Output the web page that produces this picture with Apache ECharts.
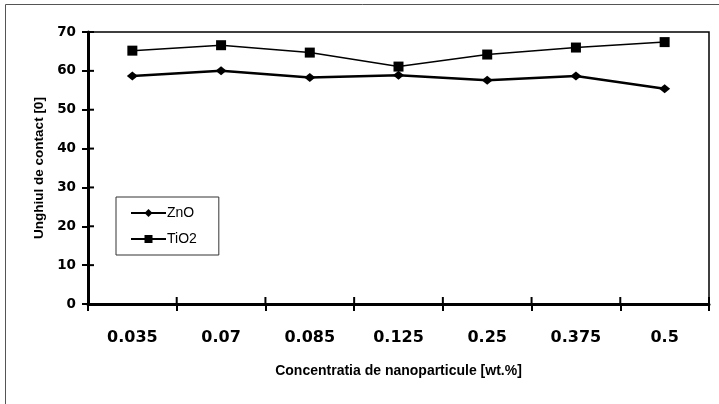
<!DOCTYPE html>
<html><head><meta charset="utf-8">
<script src="https://cdn.jsdelivr.net/npm/echarts@6/dist/echarts.min.js"></script>
<style>html,body{margin:0;padding:0;background:#fff}#c{width:719px;height:404px}</style>
</head><body><div id="c"></div>
<script>
var categories = ['0.035','0.07','0.085','0.125','0.25','0.375','0.5'];
var znoValues = [58.7, 60.0, 58.3, 58.9, 57.6, 58.7, 55.4];
var tio2Values = [65.2, 66.6, 64.7, 61.1, 64.2, 66.0, 67.4];
var yTickValues = [0, 10, 20, 30, 40, 50, 60, 70];

var chart = echarts.init(document.getElementById('c'));
var frame = {
  type: 'rect', shape: {x: 5.5, y: 4.5, width: 900, height: 600},
  style: {fill: 'none', stroke: '#555', lineWidth: 1}, silent: true
};
chart.setOption({
  animation: false,
  backgroundColor: '#fff',
  graphic: [frame],
  grid: {left: 88, right: 10, top: 32, bottom: 100, show: true, borderColor: '#000', borderWidth: 1.5, backgroundColor: 'transparent'},
  legend: {
    left: 116, top: 197, orient: 'vertical', width: 103,
    backgroundColor: '#fff', borderColor: '#333', borderWidth: 1,
    padding: [9, 22, 9, 14], itemGap: 12, itemWidth: 35, itemHeight: 10,
    textStyle: {fontFamily: 'Liberation Sans, Arial', fontSize: 14, color: '#000', padding: [0,0,0,-4]},
    data: ['ZnO', 'TiO2']
  },
  xAxis: {
    type: 'category', data: categories, boundaryGap: true,
    name: 'Concentratia de nanoparticule [wt.%]', nameLocation: 'middle', nameGap: 60,
    nameTextStyle: {fontFamily: 'Liberation Sans, Arial', fontWeight: 'bold', fontSize: 14, color: '#000'},
    axisLine: {lineStyle: {color: '#000', width: 3}},
    axisTick: {show: true, length: 7, lineStyle: {color: '#000', width: 2}},
    axisLabel: {fontFamily: 'DejaVu Sans', fontWeight: 'bold', fontSize: 16, color: '#000', margin: 26},
    splitLine: {show: false}
  },
  yAxis: {
    type: 'value', min: yTickValues[0], max: yTickValues[yTickValues.length - 1], interval: 10,
    name: 'Unghiul de contact [0]', nameLocation: 'middle', nameGap: 42, nameRotate: 90,
    nameTextStyle: {fontFamily: 'Liberation Sans, Arial', fontWeight: 'bold', fontSize: 13.5, color: '#000'},
    axisLine: {show: true, lineStyle: {color: '#000', width: 3}},
    axisTick: {show: true, length: 6, lineStyle: {color: '#000', width: 2}},
    axisLabel: {fontFamily: 'DejaVu Sans', fontWeight: 'bold', fontSize: 13.5, color: '#000', margin: 12},
    splitLine: {show: false}
  },
  series: [{
    name: 'ZnO', type: 'line', data: znoValues,
    symbol: 'diamond', symbolSize: [11, 9], showSymbol: true,
    lineStyle: {color: '#000', width: 2.5}, itemStyle: {color: '#000'}
  }, {
    name: 'TiO2', type: 'line', data: tio2Values,
    symbol: 'rect', symbolSize: 10, showSymbol: true,
    lineStyle: {color: '#000', width: 1.5}, itemStyle: {color: '#000'}
  }]
});

// inward halves of the crossing tick marks, positioned through the library's own scales
var c0 = chart.convertToPixel({xAxisIndex: 0}, 0);
var c1 = chart.convertToPixel({xAxisIndex: 0}, 1);
var band = c1 - c0;
var axisX = c0 - band / 2;
var axisY = chart.convertToPixel({yAxisIndex: 0}, 0);
var extra = [frame];
for (var i = 1; i <= categories.length; i++) {
  var bx = axisX + band * i;
  extra.push({type: 'line', silent: true, z: 10,
    shape: {x1: bx, y1: axisY, x2: bx, y2: axisY - 7},
    style: {stroke: '#000', lineWidth: 2}});
}
yTickValues.forEach(function (v) {
  var py = chart.convertToPixel({yAxisIndex: 0}, v);
  extra.push({type: 'line', silent: true, z: 10,
    shape: {x1: axisX, y1: py, x2: axisX + 6, y2: py},
    style: {stroke: '#000', lineWidth: 2}});
});
chart.setOption({graphic: extra}, {replaceMerge: ['graphic']});
</script></body></html>
